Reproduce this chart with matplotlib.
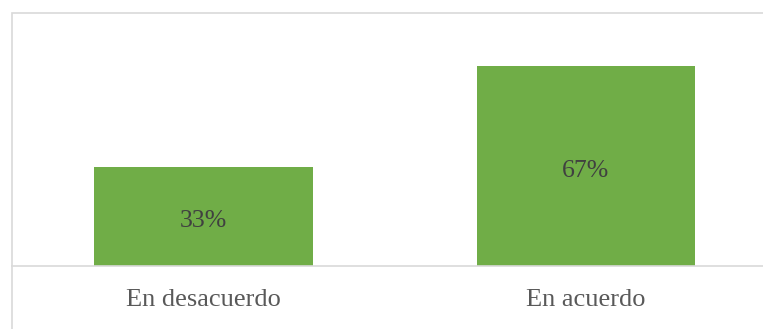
import matplotlib.pyplot as plt
from matplotlib.patches import Rectangle

categories = ['En desacuerdo', 'En acuerdo']
values = [33, 67]
labels = ['33%', '67%']

plt.rcParams['font.family'] = ['Liberation Serif', 'DejaVu Serif']

W, H = 763, 329
fig = plt.figure(figsize=(W / 100, H / 100), dpi=100)

# plot area in pixels: left 12.3, right 776.9, top 13, baseline 266
ax = fig.add_axes([12.3 / W, (H - 266) / H, 764.6 / W, 253 / H])
bars = ax.bar(range(len(values)), values, width=0.571, color='#70ad47')
ax.set_xlim(-0.5, 1.5)
ax.set_ylim(0, 253 / 2.985)

for b, lab in zip(bars, labels):
    ax.annotate(lab, (b.get_x() + b.get_width() / 2, b.get_height() / 2),
                xytext=(0, -1.5), textcoords='offset points',
                ha='center', va='center_baseline', fontsize=18.5, color='#404040')

ax.set_xticks(range(len(categories)))
ax.set_xticklabels(categories, fontsize=19, color='#595959')
ax.tick_params(axis='x', length=0, pad=16.5)
ax.set_yticks([])
for s in ['top', 'left', 'right']:
    ax.spines[s].set_visible(False)
ax.spines['bottom'].set_color('#d9d9d9')
ax.spines['bottom'].set_linewidth(1.2)

# chart border
fig.patches.append(Rectangle((11.5 / W, -0.1), 1.0, (H - 13 + 33) / H,
                             transform=fig.transFigure, fill=False,
                             edgecolor='#d9d9d9', linewidth=1.2))

fig.savefig('out.png', dpi=100)
